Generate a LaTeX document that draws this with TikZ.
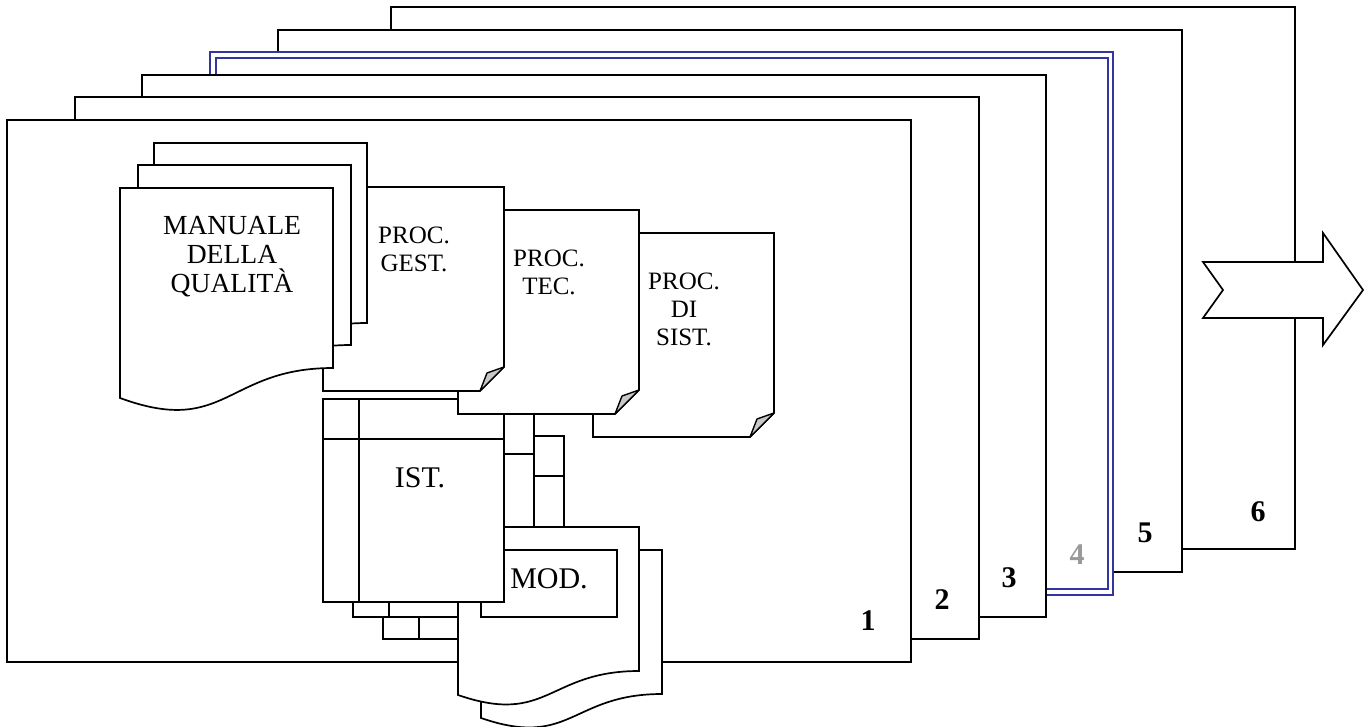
\documentclass[tikz,border=0pt]{standalone}
\usepackage{fontspec}
\setmainfont{Liberation Serif}
\usepackage{tikz}
\usepackage{xcolor}
\definecolor{pageblue}{HTML}{34349E}
\definecolor{foldgray}{HTML}{C8C8C8}
\definecolor{numgray}{HTML}{999999}
\tikzset{
  sheet/.style={line width=0.85pt, draw=black, fill=white},
  rule/.style={line width=0.85pt, draw=black},
  bluesheet/.style={line width=1pt, draw=pageblue, fill=white},
  fold/.style={line width=0.7pt, draw=black, fill=foldgray, line join=round},
  pagenum/.style={font=\fontsize{15}{15}\selectfont\bfseries, inner sep=0pt},
  doctext/.style={font=\fontsize{12.5}{14}\selectfont, align=center, inner sep=0pt, anchor=north},
  bigtext/.style={font=\fontsize{13.8}{14.5}\selectfont, align=center, inner sep=0pt, anchor=north},
  formtext/.style={font=\fontsize{15}{15}\selectfont, inner sep=0pt},
}

\begin{document}
\begin{tikzpicture}[x=0.5pt, y=-0.5pt]
  \useasboundingbox (0,0) rectangle (1370,727);
  % pages 6..1, back to front
  \foreach \x/\y in {391/7, 278/30}
    \draw[sheet] (\x,\y) rectangle ++(904,542);
  \draw[bluesheet] (210,52) rectangle (1113,595);
  \draw[bluesheet] (216,58) rectangle (1108,589);
  \foreach \x/\y in {142/75, 75/97, 7/120}
    \draw[sheet] (\x,\y) rectangle ++(904,542);
  \foreach \n/\x/\y in {1/868/621, 2/942/600, 3/1009/578, 5/1145/533, 6/1258/512}
    \node[pagenum] (num\n) at (\x,\y) {\n};
  \node[pagenum, text=numgray] (num4) at (1077,555) {4};
  % notched arrow
  \draw[sheet] (1203,262) -- (1323,262) -- (1323,233) -- (1363,290) -- (1323,345)
    -- (1323,318) -- (1203,318) -- (1223,290) -- cycle;
  % instructions, back sheets
  \foreach \x/\y in {383/436, 353/414}{
    \draw[sheet] (\x,\y) rectangle ++(181,203);
    \draw[rule] (\x+36,\y) -- ++(0,203) (\x,\y+40) -- ++(181,0);
  }
  % forms
  \foreach \x/\y in {481/550, 458/527}
    \draw[sheet] (\x,\y) -- (\x+181,\y) -- (\x+181,\y+144)
      .. controls (\x+90,\y+144) and (\x+90,\y+199) .. (\x,\y+168) -- cycle;
  \draw[sheet] (481,550) rectangle (617,617);
  \node[formtext] (mod) at (549,579) {MOD.};
  % instructions, front sheet
  \draw[sheet] (323,399) rectangle ++(181,203);
  \draw[rule] (359,399) -- ++(0,203) (323,439) -- ++(181,0);
  \node[formtext] (ist) at (420,478) {IST.};
  % procedures with folded corner
  \foreach \x/\y/\name/\txt in {593/233/sist/{PROC.\\DI\\SIST.},
                                458/210/tec/{PROC.\\TEC.},
                                323/187/gest/{PROC.\\GEST.}}{
    \draw[sheet] (\x,\y) -- (\x+181,\y) -- (\x+181,\y+180) -- (\x+157,\y+204) -- (\x,\y+204) -- cycle;
    \draw[fold] (\x+157,\y+204) -- (\x+164,\y+186) -- (\x+181,\y+180) -- cycle;
    \node[doctext] (\name) at (\x+91,\y+40) {\txt};
  }
  % quality manual
  \foreach \x/\y in {154/143, 138/165, 120/188}
    \draw[sheet] (\x,\y) -- (\x+213,\y) -- (\x+213,\y+180)
      .. controls (\x+106,\y+180) and (\x+106,\y+249) .. (\x,\y+210) -- cycle;
  \node[bigtext] (manual) at (232,216) {MANUALE\\DELLA\\QUALITÀ};
\end{tikzpicture}
\end{document}
